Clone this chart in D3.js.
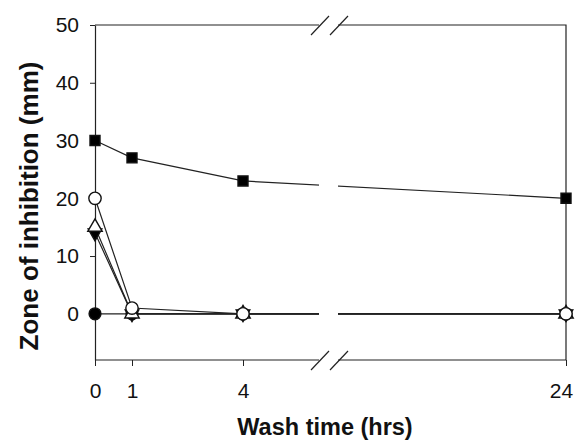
<!DOCTYPE html>
<html>
<head>
<meta charset="utf-8">
<script src="https://cdn.jsdelivr.net/npm/d3@7"></script>
<style>
  body { margin: 0; background: #fff; }
  svg text { font-family: "Liberation Sans", Arial, Helvetica, sans-serif; fill: #111; }
</style>
</head>
<body>
<script>
// wash times (hrs) and zone of inhibition (mm) for each series
var hours = [0, 1, 4, 24];
var squares = [30, 27, 23, 20];      // filled squares
var openCircles = [20, 1, 0, 0];     // open circles
var openTriangles = [15, 0, 0, 0];   // open triangles
var downTriangles = [14, 0, 0, 0];   // filled inverted triangles
var filledCircles = [0, 0, 0, 0];    // filled circles
var yTicks = [0, 10, 20, 30, 40, 50];
var xTicksLeft = [0, 1, 4];
var xTicksRight = [24];

var W = 576, H = 441;
var m = { left: 95, right: 566, top: 25, bottom: 360 };
var gapL = 319, gapR = 338;

var svg = d3.select("body").append("svg")
    .attr("width", W)
    .attr("height", H);

// broken x axis: two linear pieces with the same slope
var xA = d3.scaleLinear().domain([0, 4]).range([m.left, 243]);
var pxPerHr = (243 - m.left) / 4;
var xB = d3.scaleLinear().domain([24 - (m.right - 346) / pxPerHr, 24]).range([346, m.right]);
function x(v) { return v <= 6 ? xA(v) : xB(v); }

var y = d3.scaleLinear().domain([-8, 50]).range([m.bottom, m.top]);

// frame (top + right)
svg.append("path")
    .attr("d", "M" + m.left + "," + m.top + "H" + m.right + "V" + m.bottom)
    .attr("fill", "none").attr("stroke", "#222").attr("stroke-width", 1.2);

// y axis
var yAxis = svg.append("g")
    .attr("transform", "translate(" + m.left + ",0)")
    .call(d3.axisLeft(y).tickValues(yTicks).tickFormat(d3.format("d")).tickSize(5).tickSizeOuter(0));
yAxis.attr("font-family", null);
yAxis.select(".domain").attr("stroke", "#222").attr("stroke-width", 1.2);
yAxis.selectAll(".tick line").attr("stroke", "#222");
yAxis.selectAll("text")
    .attr("font-size", 21)
    .attr("x", -16)
    .attr("fill", "#111");

// x axis, two pieces
[[xA, xTicksLeft, 0], [xB, xTicksRight, -5]].forEach(function (p) {
  var g = svg.append("g")
      .attr("transform", "translate(0," + m.bottom + ")")
      .call(d3.axisBottom(p[0]).tickValues(p[1]).tickFormat(d3.format("d")).tickSize(6).tickSizeOuter(0));
  g.attr("font-family", null);
  g.select(".domain").remove();
  g.selectAll(".tick line").attr("stroke", "#222");
  g.selectAll("text").attr("font-size", 21).attr("y", 23).attr("x", p[2]).attr("fill", "#111");
});
svg.append("line")
    .attr("x1", m.left).attr("x2", m.right)
    .attr("y1", m.bottom).attr("y2", m.bottom)
    .attr("stroke", "#222").attr("stroke-width", 1.2);

// series
var series = [
  { vals: filledCircles, sym: d3.symbolCircle, size: 110, fill: "#000" },
  { vals: downTriangles, sym: d3.symbolTriangle, size: 80, fill: "#000", rot: 180 },
  { vals: openTriangles, sym: d3.symbolTriangle, size: 90, fill: "#fff" },
  { vals: openCircles, sym: d3.symbolCircle, size: 120, fill: "#fff" },
  { vals: squares, sym: d3.symbolSquare, size: 100, fill: "#000" }
];

var line = d3.line()
    .x(function (d) { return x(d[0]); })
    .y(function (d) { return y(d[1]); });

series.forEach(function (s) {
  var pts = hours.map(function (h, i) { return [h, s.vals[i]]; });
  svg.append("path")
      .datum(pts)
      .attr("d", line)
      .attr("fill", "none")
      .attr("stroke", "#222")
      .attr("stroke-width", 1.2);
});

// cut the axis break out of everything
svg.append("rect")
    .attr("x", gapL).attr("y", 0)
    .attr("width", gapR - gapL).attr("height", m.bottom + 20)
    .attr("fill", "#fff");

// break marks
[m.top, m.bottom].forEach(function (yy) {
  [311, 330].forEach(function (xx) {
    svg.append("line")
        .attr("x1", xx).attr("y1", yy + 10)
        .attr("x2", xx + 18).attr("y2", yy - 9)
        .attr("stroke", "#222").attr("stroke-width", 1.2);
  });
});

series.forEach(function (s) {
  svg.append("g").selectAll("path")
    .data(hours.map(function (h, i) { return [h, s.vals[i]]; }))
    .enter()
    .append("path")
      .attr("d", d3.symbol().type(s.sym).size(s.size))
      .attr("transform", function (d) {
        return "translate(" + x(d[0]) + "," + y(d[1]) + ")" + (s.rot ? " rotate(" + s.rot + ")" : "");
      })
      .attr("fill", s.fill)
      .attr("stroke", "#111")
      .attr("stroke-width", 1.4);
});

// axis titles
svg.append("text")
    .attr("x", 325).attr("y", 435)
    .attr("text-anchor", "middle")
    .attr("font-size", 23.5)
    .attr("font-weight", "bold")
    .text("Wash time (hrs)");

svg.append("text")
    .attr("transform", "translate(38,206) rotate(-90)")
    .attr("text-anchor", "middle")
    .attr("font-size", 26)
    .attr("font-weight", "bold")
    .text("Zone of inhibition (mm)");
</script>
</body>
</html>
